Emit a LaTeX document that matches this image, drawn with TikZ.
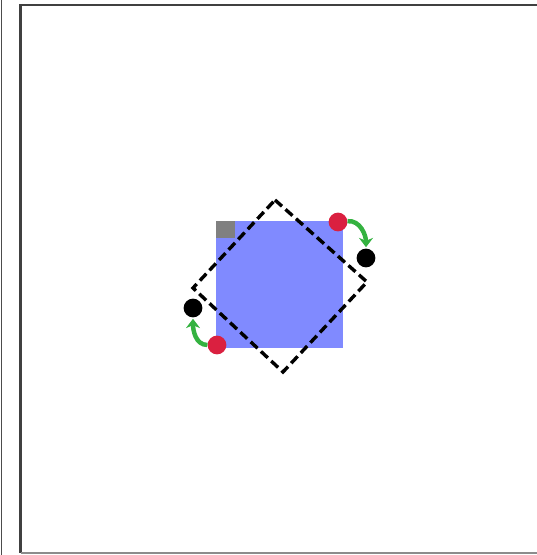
\documentclass[tikz,border=0pt]{standalone}
\usepackage{tikz}
\usetikzlibrary{arrows.meta, calc}

\begin{document}
\begin{tikzpicture}[x=0.03cm, y=0.03cm]
% --- CORES ---
\definecolor{quadrado}{RGB}{128,138,255}
\definecolor{canto}{RGB}{128,128,128}
\definecolor{ponto}{RGB}{218,32,64}
\definecolor{seta}{RGB}{52,178,64}
\tikzset{
  vertice/.style={circle, fill=#1, inner sep=0pt, minimum size=16pt},
  giro/.style={-{Stealth[length=8pt, width=12pt]}, line width=3.8pt, color=seta, shorten >=1pt}
}
\useasboundingbox (0,0) rectangle (537,555);

% LAYER 1: Moldura
\draw[line width=1.4pt, color=black!70] (1.5,0) -- (1.5,555);
\draw[line width=1.8pt, color=black!75] (545,550) -- (20.5,550) -- (20.5,2);
\draw[line width=1.4pt, color=black!45] (20.5,2) -- (545,2);

% LAYER 2: Quadrado e canto marcado
\fill[quadrado] (216,207) rectangle (343,334);
\fill[canto] (216,334) rectangle (235,317);

% LAYER 3: Quadrado girado (tracejado)
\draw[line width=2.9pt, dash pattern=on 8pt off 4pt] (275,355) -- (367,273) -- (283,183) -- (193,267) -- cycle;

% LAYER 4: Pontos e setas de giro
\node[vertice=ponto] (r1) at (338,333) {};
\node[vertice=black] (b1) at (366,297) {};
\node[vertice=ponto] (r2) at (217,210) {};
\node[vertice=black] (b2) at (193,247) {};
\draw[giro] (r1) to[out=5, in=90] (b1);
\draw[giro] (r2) to[out=180, in=-90] (b2);
\end{tikzpicture}
\end{document}
